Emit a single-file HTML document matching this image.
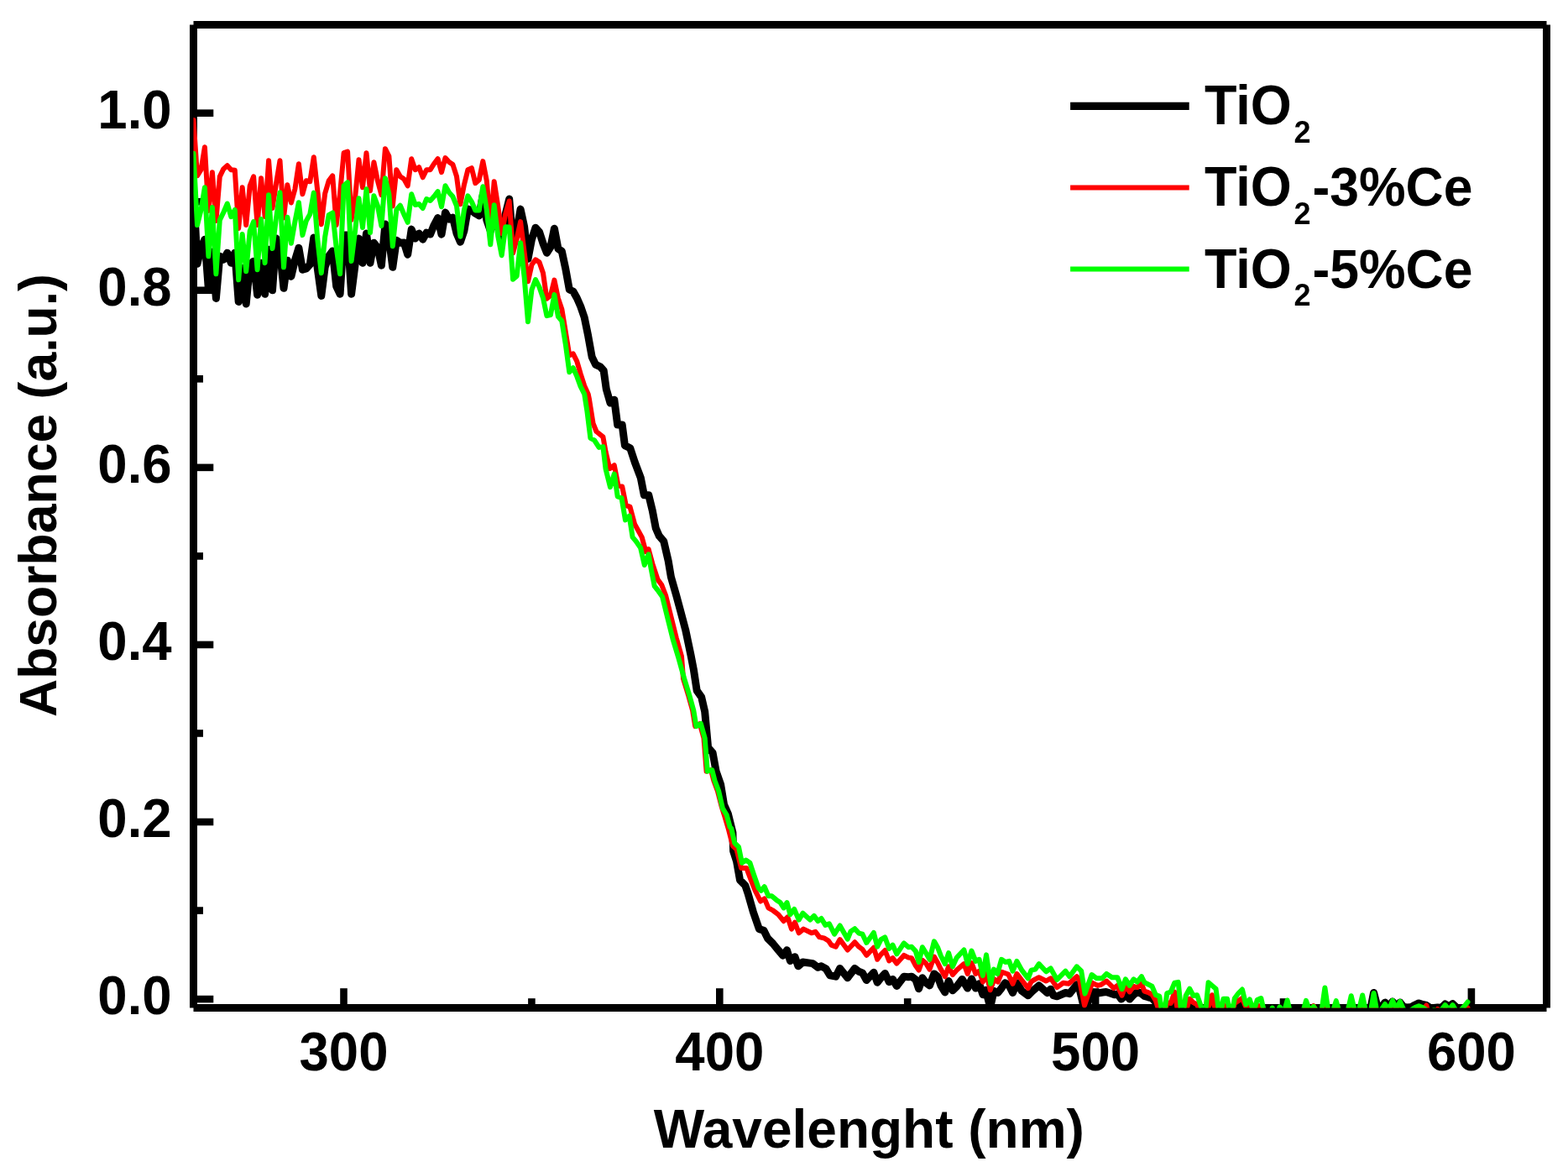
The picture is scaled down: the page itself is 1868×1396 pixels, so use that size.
<!DOCTYPE html><html><head><meta charset="utf-8"><title>Absorbance</title><style>html,body{margin:0;padding:0;background:#fff;width:1868px;height:1396px;overflow:hidden}svg{display:block}text{font-family:"Liberation Sans",Arial,sans-serif;font-weight:bold;fill:#000}</style></head><body>
<svg width="1868" height="1396" viewBox="0 0 1868 1396">
<rect width="1868" height="1396" fill="#fff"/>
<g stroke="#000" stroke-width="9" fill="none" stroke-linecap="butt">
<line x1="230.5" y1="29.5" x2="230.5" y2="1200.5"/>
<line x1="230.5" y1="29.5" x2="1842.5" y2="29.5"/>
<line x1="1842.5" y1="29.5" x2="1842.5" y2="1200.5"/>
<line x1="230.5" y1="1200.5" x2="1842.5" y2="1200.5"/>
</g>
<g stroke="#000" stroke-width="8.6" fill="none">
<line x1="230.5" y1="1190.10" x2="254.3" y2="1190.10"/>
<line x1="230.5" y1="979.02" x2="254.3" y2="979.02"/>
<line x1="230.5" y1="767.94" x2="254.3" y2="767.94"/>
<line x1="230.5" y1="556.86" x2="254.3" y2="556.86"/>
<line x1="230.5" y1="345.78" x2="254.3" y2="345.78"/>
<line x1="230.5" y1="134.70" x2="254.3" y2="134.70"/>
<line x1="230.5" y1="1084.56" x2="242.0" y2="1084.56"/>
<line x1="230.5" y1="873.48" x2="242.0" y2="873.48"/>
<line x1="230.5" y1="662.40" x2="242.0" y2="662.40"/>
<line x1="230.5" y1="451.32" x2="242.0" y2="451.32"/>
<line x1="230.5" y1="240.24" x2="242.0" y2="240.24"/>
<line x1="409.50" y1="1200.5" x2="409.50" y2="1177.2"/>
<line x1="857.30" y1="1200.5" x2="857.30" y2="1177.2"/>
<line x1="1305.10" y1="1200.5" x2="1305.10" y2="1177.2"/>
<line x1="1752.90" y1="1200.5" x2="1752.90" y2="1177.2"/>
<line x1="633.40" y1="1200.5" x2="633.40" y2="1189.2"/>
<line x1="1081.20" y1="1200.5" x2="1081.20" y2="1189.2"/>
<line x1="1529.00" y1="1200.5" x2="1529.00" y2="1189.2"/>
</g>
<defs><clipPath id="pc"><rect x="230.5" y="29.5" width="1612" height="1171"/></clipPath></defs>
<g clip-path="url(#pc)">
<path d="M230.5 225.0 L235.0 314.2 L239.5 295.0 L243.9 285.2 L248.4 345.0 L252.9 300.0 L257.4 355.4 L261.8 305.2 L266.3 309.2 L270.8 301.2 L275.3 313.2 L279.8 301.2 L284.2 359.4 L288.7 319.3 L293.2 361.9 L297.7 315.2 L302.1 311.2 L306.6 351.3 L311.1 313.2 L315.6 350.3 L320.1 297.2 L324.5 345.8 L329.0 284.0 L333.5 300.0 L338.0 343.3 L342.4 310.2 L346.9 329.3 L351.4 310.0 L355.9 295.2 L360.4 321.3 L364.8 320.0 L369.3 315.0 L373.8 283.1 L378.3 320.0 L382.8 352.4 L387.2 318.0 L391.7 305.0 L396.2 299.0 L400.7 341.0 L405.1 350.3 L409.6 280.1 L414.1 280.0 L418.6 350.3 L423.1 315.0 L427.5 284.1 L432.0 313.2 L436.5 278.1 L441.0 313.2 L445.4 289.2 L449.9 295.0 L454.4 316.2 L458.9 267.1 L463.4 285.0 L467.8 318.3 L472.3 286.2 L476.8 289.2 L481.3 289.0 L485.7 303.2 L490.2 273.1 L494.7 284.1 L499.2 278.1 L503.7 285.2 L508.1 277.1 L512.6 279.1 L517.1 268.0 L521.6 259.6 L526.0 279.2 L530.5 253.1 L535.0 261.0 L539.5 259.1 L544.0 278.0 L548.4 288.2 L552.9 275.0 L557.4 249.0 L561.9 250.5 L566.3 254.2 L570.8 256.9 L575.3 232.0 L579.8 262.0 L584.3 275.0 L588.7 258.0 L593.2 270.0 L597.7 285.0 L602.2 255.0 L606.7 237.1 L611.1 290.0 L615.6 275.0 L620.1 249.1 L624.6 270.0 L629.0 308.3 L633.5 285.0 L638.0 271.2 L642.5 276.2 L647.0 290.0 L651.4 301.2 L655.9 294.2 L660.4 272.2 L664.9 296.2 L669.3 299.2 L673.8 320.3 L678.3 345.0 L682.8 347.0 L687.3 355.0 L691.7 365.0 L696.2 378.1 L700.7 400.2 L705.2 425.3 L709.7 434.4 L715.2 436.8 L719.2 441.5 L722.3 463.6 L727.0 480.1 L731.8 476.2 L735.7 506.1 L741.2 506.1 L744.4 530.6 L750.7 533.7 L756.2 550.3 L763.3 569.2 L767.3 589.7 L772.8 589.7 L777.3 608.4 L781.2 628.9 L785.2 638.3 L790.7 644.6 L796.2 668.3 L799.4 687.2 L805.7 709.3 L810.4 726.6 L816.7 750.3 L823.0 780.2 L826.3 797.3 L830.2 822.6 L835.7 830.4 L839.7 847.8 L843.6 890.4 L849.1 896.7 L853.1 918.7 L858.6 934.5 L862.5 958.2 L867.3 969.2 L872.9 991.5 L873.6 1013.6 L877.6 1026.2 L881.5 1048.3 L887.8 1054.6 L891.0 1064.0 L897.3 1086.1 L904.4 1106.6 L909.9 1108.2 L914.6 1117.7 L920.9 1124.0 L927.3 1131.8 L932.8 1138.2 L937.5 1131.8 L941.4 1144.5 L947.0 1139.7 L950.9 1150.8 L956.4 1146.0 L968.2 1147.6 L974.5 1152.3 L978.5 1150.8 L984.0 1153.9 L988.7 1161.8 L990.4 1162.1 L995.7 1163.2 L1000.6 1153.5 L1009.7 1164.8 L1018.3 1153.5 L1023.2 1157.3 L1027.5 1158.9 L1032.3 1167.5 L1040.9 1158.3 L1045.2 1170.2 L1049.5 1164.8 L1054.3 1159.4 L1059.2 1169.6 L1063.5 1166.4 L1068.3 1174.5 L1076.9 1163.2 L1082.3 1163.7 L1086.0 1163.2 L1090.9 1166.9 L1094.6 1177.7 L1098.9 1164.8 L1103.2 1170.7 L1107.5 1173.9 L1112.9 1159.9 L1117.2 1163.2 L1120.9 1173.9 L1125.8 1182.0 L1130.1 1168.5 L1134.9 1179.8 L1139.8 1175.0 L1146.2 1166.4 L1152.7 1177.1 L1157.5 1165.9 L1162.3 1177.1 L1166.6 1171.8 L1170.9 1184.7 L1174.3 1179.3 L1179.7 1199.7 L1184.0 1180.4 L1188.8 1182.5 L1193.1 1177.1 L1197.4 1170.7 L1202.2 1173.9 L1206.5 1182.5 L1211.4 1170.7 L1217.3 1180.4 L1224.8 1185.7 L1230.2 1180.4 L1237.7 1173.9 L1247.4 1182.5 L1251.7 1178.2 L1254.9 1185.7 L1259.2 1186.8 L1269.4 1182.5 L1274.2 1183.6 L1282.8 1172.8 L1286.1 1178.2 L1292.0 1202.9 L1301.2 1182.3 L1305.5 1183.0 L1309.4 1182.7 L1313.9 1182.0 L1317.7 1181.5 L1322.5 1183.0 L1327.6 1184.8 L1331.5 1184.0 L1335.8 1190.1 L1341.6 1184.8 L1345.7 1190.1 L1349.5 1186.0 L1353.1 1182.7 L1358.1 1182.3 L1363.4 1186.4 L1367.9 1187.8 L1372.4 1189.0 L1376.9 1193.8 L1381.3 1204.0 L1385.8 1210.0 L1390.3 1206.0 L1394.8 1200.0 L1399.3 1189.7 L1403.7 1208.0 L1408.2 1210.0 L1412.7 1206.0 L1417.2 1196.5 L1421.6 1200.0 L1426.1 1200.0 L1430.6 1208.0 L1435.1 1210.0 L1439.6 1203.0 L1444.0 1191.2 L1448.5 1206.0 L1453.0 1210.0 L1457.5 1199.5 L1462.0 1206.0 L1466.4 1210.0 L1470.9 1199.0 L1475.4 1196.5 L1479.9 1198.0 L1484.3 1202.0 L1488.8 1204.0 L1493.3 1206.0 L1497.8 1205.0 L1502.3 1208.0 L1506.7 1208.0 L1511.2 1208.0 L1515.7 1208.0 L1520.2 1208.0 L1524.6 1208.0 L1529.1 1208.0 L1533.6 1208.0 L1538.1 1208.0 L1542.6 1208.0 L1547.0 1208.0 L1551.5 1208.0 L1556.0 1208.0 L1560.5 1208.0 L1564.9 1208.0 L1569.4 1208.0 L1573.9 1208.0 L1578.4 1208.0 L1582.9 1208.0 L1587.3 1208.0 L1591.8 1208.0 L1596.3 1208.0 L1600.8 1208.0 L1605.2 1208.0 L1609.7 1208.0 L1614.2 1208.0 L1618.7 1208.0 L1623.2 1208.0 L1627.6 1208.0 L1632.1 1205.0 L1636.6 1182.5 L1641.1 1199.7 L1645.5 1199.7 L1650.0 1194.1 L1654.5 1199.0 L1659.0 1193.0 L1663.5 1199.0 L1667.9 1194.0 L1672.4 1199.5 L1676.9 1200.0 L1681.4 1199.5 L1685.8 1197.0 L1690.3 1194.9 L1694.8 1196.5 L1699.3 1197.5 L1703.8 1200.5 L1708.2 1200.5 L1712.7 1200.0 L1717.2 1200.5 L1721.7 1196.0 L1726.2 1199.0 L1730.6 1195.6 L1735.1 1200.0 L1739.6 1204.0 L1744.1 1204.0 L1748.5 1204.0" fill="none" stroke="#000" stroke-width="9" stroke-linejoin="round" stroke-linecap="round"/>
<path d="M230.5 143.0 L235.0 209.3 L239.5 202.2 L243.9 175.2 L248.4 251.0 L252.9 205.2 L257.4 263.0 L261.8 210.3 L266.3 201.2 L270.8 197.2 L275.3 202.2 L279.8 202.7 L284.2 272.0 L288.7 223.3 L293.2 268.0 L297.7 221.3 L302.1 210.3 L306.6 268.0 L311.1 212.3 L315.6 258.0 L320.1 191.2 L324.5 248.0 L329.0 218.8 L333.5 191.2 L338.0 259.5 L342.4 220.3 L346.9 241.5 L351.4 225.3 L355.9 195.2 L360.4 231.3 L364.8 215.3 L369.3 216.3 L373.8 187.2 L378.3 227.3 L382.8 267.2 L387.2 230.3 L391.7 215.3 L396.2 209.3 L400.7 268.0 L405.1 230.0 L409.6 182.2 L414.1 180.7 L418.6 262.0 L423.1 235.3 L427.5 190.2 L432.0 223.3 L436.5 182.2 L441.0 227.3 L445.4 193.2 L449.9 215.3 L454.4 232.3 L458.9 177.2 L463.4 186.2 L467.8 245.4 L472.3 202.2 L476.8 210.3 L481.3 213.3 L485.7 221.3 L490.2 189.2 L494.7 202.2 L499.2 199.2 L503.7 211.3 L508.1 202.2 L512.6 202.2 L517.1 195.0 L521.6 189.1 L526.0 205.2 L530.5 188.1 L535.0 193.1 L539.5 196.1 L544.0 210.2 L548.4 243.3 L552.9 220.2 L557.4 202.2 L561.9 200.2 L566.3 218.2 L570.8 214.2 L575.3 192.1 L579.8 215.2 L584.3 268.0 L588.7 216.2 L593.2 245.3 L597.7 278.0 L602.2 255.0 L606.7 239.5 L611.1 301.5 L615.6 285.0 L620.1 264.1 L624.6 300.0 L629.0 335.3 L633.5 315.3 L638.0 309.3 L642.5 312.3 L647.0 325.3 L651.4 355.7 L655.9 352.0 L660.4 333.6 L664.9 355.2 L669.3 368.1 L673.8 395.2 L678.3 423.3 L682.8 421.3 L687.3 430.3 L691.7 445.3 L696.2 459.4 L700.7 469.4 L701.8 474.6 L706.6 504.5 L710.5 514.0 L718.4 520.3 L721.5 537.7 L726.3 558.2 L731.8 554.2 L736.5 578.6 L741.2 579.4 L745.8 602.1 L750.5 603.6 L756.0 624.1 L764.7 639.9 L769.4 657.3 L772.6 654.1 L777.3 671.4 L783.6 690.4 L788.3 696.7 L793.1 709.3 L799.4 734.5 L805.7 759.7 L812.0 781.8 L814.0 808.4 L820.3 828.9 L825.1 846.2 L828.2 865.1 L833.7 862.0 L838.5 879.3 L841.6 918.7 L847.1 917.2 L850.3 929.8 L855.0 942.4 L859.5 960.0 L863.4 972.6 L868.1 988.4 L872.9 1007.3 L877.6 1012.0 L883.1 1034.1 L889.4 1034.1 L894.1 1046.7 L899.7 1060.9 L906.0 1073.5 L910.7 1070.4 L915.4 1081.4 L920.9 1084.5 L927.3 1089.3 L933.6 1097.2 L938.3 1092.4 L943.0 1106.6 L947.0 1098.7 L951.7 1111.3 L957.2 1106.6 L966.7 1111.3 L971.4 1109.8 L976.1 1116.1 L982.4 1117.7 L987.2 1120.8 L990.4 1125.6 L995.7 1127.7 L1000.6 1119.1 L1009.7 1131.5 L1018.3 1122.3 L1023.2 1127.7 L1027.5 1130.9 L1032.3 1137.9 L1040.9 1128.8 L1045.2 1142.8 L1049.5 1136.8 L1054.3 1132.0 L1059.2 1144.4 L1063.5 1141.1 L1068.3 1147.6 L1076.9 1137.9 L1082.3 1140.6 L1086.0 1141.1 L1090.9 1150.3 L1094.6 1155.6 L1098.9 1143.8 L1103.2 1147.6 L1107.5 1154.6 L1112.9 1139.5 L1117.2 1147.0 L1120.9 1154.6 L1125.8 1163.2 L1130.1 1151.3 L1134.9 1161.0 L1139.8 1155.6 L1148.4 1148.1 L1152.7 1159.9 L1157.5 1147.0 L1162.3 1159.9 L1166.6 1156.7 L1170.9 1169.6 L1175.0 1159.9 L1179.7 1179.3 L1184.5 1166.4 L1188.8 1169.6 L1193.6 1157.8 L1201.2 1160.5 L1206.5 1171.8 L1211.4 1159.9 L1217.3 1167.5 L1224.8 1177.1 L1228.6 1169.1 L1233.4 1166.4 L1237.7 1164.2 L1246.3 1168.5 L1251.7 1165.3 L1259.2 1176.1 L1266.7 1170.7 L1273.2 1171.8 L1282.8 1163.2 L1286.1 1167.5 L1292.0 1197.6 L1301.1 1170.7 L1307.6 1173.9 L1311.9 1172.8 L1318.3 1168.5 L1326.9 1177.1 L1331.2 1173.9 L1336.6 1185.7 L1340.9 1173.9 L1345.7 1181.4 L1350.5 1175.0 L1354.8 1176.1 L1360.0 1171.8 L1363.4 1180.7 L1367.9 1182.2 L1372.4 1184.5 L1376.9 1192.0 L1381.3 1206.0 L1385.8 1210.0 L1390.3 1194.2 L1394.8 1195.0 L1399.3 1181.5 L1403.7 1208.0 L1408.2 1210.0 L1412.7 1205.0 L1417.2 1189.7 L1421.6 1194.2 L1426.1 1196.5 L1430.6 1208.0 L1435.1 1210.0 L1439.6 1200.0 L1444.0 1185.2 L1448.5 1206.0 L1453.0 1210.0 L1457.5 1196.5 L1462.0 1206.0 L1466.4 1210.0 L1470.9 1195.0 L1475.4 1192.0 L1479.9 1189.0 L1484.3 1199.5 L1488.8 1198.0 L1493.3 1206.0 L1497.8 1198.0 L1502.3 1198.2 L1506.7 1213.0 L1511.2 1217.0 L1515.7 1205.5 L1520.2 1215.0 L1524.6 1204.4 L1529.1 1213.0 L1533.6 1196.5 L1538.1 1215.0 L1542.6 1220.0 L1547.0 1220.0 L1551.5 1213.0 L1556.0 1196.9 L1560.5 1210.0 L1564.9 1198.0 L1569.4 1210.0 L1573.9 1213.0 L1578.4 1181.5 L1582.9 1213.0 L1587.3 1211.0 L1591.8 1197.2 L1596.3 1213.0 L1600.8 1220.0 L1605.2 1211.0 L1609.7 1191.2 L1614.2 1210.0 L1618.7 1209.0 L1623.2 1190.5 L1627.6 1213.0 L1632.1 1215.0 L1636.6 1188.0 L1641.1 1215.0 L1645.5 1208.0 L1650.0 1201.0 L1654.5 1208.0 L1659.0 1196.9 L1663.5 1207.0 L1667.9 1198.0 L1672.4 1208.0 L1676.9 1215.0 L1681.4 1208.0 L1685.8 1205.0 L1690.3 1199.0 L1694.8 1205.0 L1699.3 1197.5 L1703.8 1215.0 L1708.2 1208.0 L1712.7 1202.0 L1717.2 1208.0 L1721.7 1202.1 L1726.2 1208.0 L1730.6 1202.1 L1735.1 1210.0 L1739.6 1209.0 L1744.1 1204.0 L1748.5 1200.5" fill="none" stroke="#ff0000" stroke-width="6" stroke-linejoin="round" stroke-linecap="round"/>
<path d="M230.5 182.8 L235.0 268.1 L239.5 250.0 L243.9 223.3 L248.4 305.2 L252.9 247.0 L257.4 326.3 L261.8 262.1 L266.3 253.0 L270.8 242.5 L275.3 258.1 L279.8 250.0 L284.2 333.3 L288.7 279.1 L293.2 323.3 L297.7 275.1 L302.1 264.1 L306.6 321.3 L311.1 261.1 L315.6 313.2 L320.1 232.3 L324.5 296.0 L329.0 260.0 L333.5 229.3 L338.0 318.3 L342.4 258.7 L346.9 289.7 L351.4 264.0 L355.9 241.2 L360.4 280.1 L364.8 263.1 L369.3 255.1 L373.8 229.6 L378.3 285.2 L382.8 325.3 L387.2 282.0 L391.7 256.1 L396.2 253.5 L400.7 295.2 L405.1 326.3 L409.6 221.3 L414.1 217.3 L418.6 311.0 L423.1 275.0 L427.5 236.3 L432.0 271.1 L436.5 225.3 L441.0 277.1 L445.4 233.3 L449.9 245.0 L454.4 269.1 L458.9 212.3 L463.4 231.3 L467.8 293.2 L472.3 250.0 L476.8 244.7 L481.3 255.4 L485.7 264.8 L490.2 231.3 L494.7 244.0 L499.2 243.0 L503.7 248.0 L508.1 237.0 L512.6 239.0 L517.1 234.0 L521.6 228.2 L526.0 246.3 L530.5 221.2 L535.0 229.2 L539.5 234.3 L544.0 245.3 L548.4 281.7 L552.9 250.3 L557.4 233.3 L561.9 240.3 L566.3 250.5 L570.8 250.5 L575.3 222.2 L579.8 250.3 L584.3 291.2 L588.7 244.2 L593.2 281.0 L597.7 304.2 L602.2 270.3 L606.7 270.6 L611.1 332.7 L615.6 329.0 L620.1 289.2 L624.6 330.0 L629.0 383.2 L633.5 345.0 L638.0 333.0 L642.5 342.0 L647.0 355.0 L651.4 376.1 L655.9 375.1 L660.4 351.1 L664.9 377.1 L669.3 382.2 L673.8 410.2 L678.3 443.3 L682.8 438.3 L687.3 448.4 L691.7 460.4 L696.2 469.4 L699.5 490.4 L703.4 521.9 L708.1 524.3 L713.6 532.9 L718.4 532.1 L721.5 558.2 L727.0 580.2 L731.8 564.5 L735.7 591.3 L740.5 593.0 L745.0 619.4 L749.7 614.7 L753.6 639.9 L757.6 644.6 L763.1 652.5 L767.8 673.0 L772.6 660.4 L775.7 677.7 L779.7 698.2 L783.6 703.0 L789.1 710.9 L795.3 736.1 L801.6 761.3 L807.8 781.8 L815.2 808.4 L821.5 828.9 L826.3 846.2 L829.4 865.1 L834.9 862.0 L839.7 879.3 L842.8 918.7 L848.3 917.2 L851.5 929.8 L856.2 942.4 L860.9 962.9 L865.7 970.8 L869.6 985.0 L871.3 986.8 L875.2 1004.1 L880.0 1008.9 L883.9 1027.8 L888.6 1024.6 L893.4 1027.8 L898.1 1042.0 L903.6 1057.7 L906.8 1060.9 L910.7 1056.2 L915.4 1067.2 L919.4 1067.2 L924.9 1071.9 L929.6 1075.1 L933.6 1081.4 L937.5 1075.1 L941.4 1089.3 L946.2 1083.0 L951.7 1095.6 L956.4 1087.7 L965.1 1095.6 L969.8 1090.9 L974.5 1097.2 L978.5 1094.0 L983.2 1101.9 L987.9 1100.3 L994.1 1112.7 L1000.6 1102.5 L1009.7 1118.6 L1013.5 1109.4 L1018.3 1106.2 L1023.2 1111.6 L1027.5 1112.7 L1032.3 1122.9 L1040.9 1111.0 L1045.2 1127.7 L1049.5 1119.1 L1054.3 1116.4 L1059.2 1129.9 L1063.5 1125.6 L1068.3 1136.3 L1076.9 1123.4 L1082.3 1128.2 L1086.0 1127.7 L1090.9 1133.1 L1094.6 1146.0 L1098.9 1128.2 L1103.2 1135.2 L1107.5 1142.8 L1112.9 1121.3 L1117.2 1128.8 L1120.9 1138.5 L1125.8 1148.1 L1130.1 1135.2 L1134.9 1151.3 L1139.8 1140.6 L1148.4 1131.5 L1152.7 1148.1 L1157.5 1132.5 L1162.3 1144.9 L1166.6 1142.8 L1170.9 1162.1 L1175.0 1137.4 L1180.2 1171.8 L1184.0 1154.6 L1188.3 1159.9 L1193.1 1142.8 L1197.9 1146.0 L1202.2 1144.9 L1206.5 1156.7 L1211.4 1144.9 L1217.3 1155.6 L1224.8 1165.3 L1228.6 1155.6 L1233.4 1154.6 L1237.7 1148.1 L1246.3 1157.3 L1251.7 1153.5 L1259.2 1166.9 L1269.4 1156.7 L1274.2 1163.2 L1282.8 1151.3 L1288.2 1156.7 L1292.5 1183.6 L1300.6 1161.0 L1306.5 1165.3 L1312.9 1165.3 L1318.3 1159.9 L1324.8 1164.2 L1331.2 1164.2 L1336.6 1178.2 L1340.9 1166.4 L1345.7 1173.9 L1350.5 1166.4 L1354.8 1169.6 L1360.0 1163.2 L1363.4 1170.2 L1367.9 1172.5 L1372.4 1174.7 L1376.9 1185.2 L1381.3 1186.7 L1385.8 1215.0 L1390.3 1183.0 L1394.8 1181.5 L1399.3 1170.6 L1403.7 1169.9 L1408.2 1215.0 L1412.7 1186.0 L1417.2 1177.7 L1421.6 1186.0 L1426.1 1185.2 L1430.6 1198.0 L1435.1 1215.0 L1439.6 1170.2 L1444.0 1174.0 L1448.5 1177.7 L1453.0 1212.0 L1457.5 1189.7 L1462.0 1189.7 L1466.4 1212.0 L1470.9 1189.0 L1475.4 1183.0 L1479.9 1178.5 L1484.3 1196.5 L1488.8 1190.5 L1493.3 1205.0 L1497.8 1191.0 L1502.3 1189.0 L1506.7 1208.0 L1511.2 1212.0 L1515.7 1200.5 L1520.2 1210.0 L1524.6 1199.4 L1529.1 1208.0 L1533.6 1191.5 L1538.1 1210.0 L1542.6 1215.0 L1547.0 1215.0 L1551.5 1208.0 L1556.0 1191.9 L1560.5 1205.0 L1564.9 1199.0 L1569.4 1205.0 L1573.9 1208.0 L1578.4 1176.5 L1582.9 1208.0 L1587.3 1206.0 L1591.8 1192.2 L1596.3 1208.0 L1600.8 1215.0 L1605.2 1206.0 L1609.7 1186.2 L1614.2 1205.0 L1618.7 1204.0 L1623.2 1185.5 L1627.6 1208.0 L1632.1 1210.0 L1636.6 1183.0 L1641.1 1210.0 L1645.5 1203.0 L1650.0 1196.0 L1654.5 1203.0 L1659.0 1191.9 L1663.5 1202.0 L1667.9 1193.0 L1672.4 1203.0 L1676.9 1210.0 L1681.4 1203.0 L1685.8 1200.0 L1690.3 1198.2 L1694.8 1200.0 L1699.3 1203.0 L1703.8 1210.0 L1708.2 1203.0 L1712.7 1205.0 L1717.2 1203.0 L1721.7 1197.1 L1726.2 1203.0 L1730.6 1197.1 L1735.1 1205.0 L1739.6 1204.0 L1744.1 1199.0 L1748.5 1193.5" fill="none" stroke="#00ff00" stroke-width="6" stroke-linejoin="round" stroke-linecap="round"/>
</g>
<text transform="matrix(1 0 0 1.035 0 -42.29)" x="204.6" y="1208.3" font-size="63.5" text-anchor="end">0.0</text>
<text transform="matrix(1 0 0 1.035 0 -34.90)" x="204.6" y="997.2" font-size="63.5" text-anchor="end">0.2</text>
<text transform="matrix(1 0 0 1.035 0 -27.51)" x="204.6" y="786.1" font-size="63.5" text-anchor="end">0.4</text>
<text transform="matrix(1 0 0 1.035 0 -20.13)" x="204.6" y="575.1" font-size="63.5" text-anchor="end">0.6</text>
<text transform="matrix(1 0 0 1.035 0 -12.74)" x="204.6" y="364.0" font-size="63.5" text-anchor="end">0.8</text>
<text transform="matrix(1 0 0 1.035 0 -5.35)" x="204.6" y="152.9" font-size="63.5" text-anchor="end">1.0</text>
<text transform="matrix(1 0 0 1.035 0 -44.63)" x="409.5" y="1275.2" font-size="63.5" text-anchor="middle">300</text>
<text transform="matrix(1 0 0 1.035 0 -44.63)" x="857.3" y="1275.2" font-size="63.5" text-anchor="middle">400</text>
<text transform="matrix(1 0 0 1.035 0 -44.63)" x="1305.1" y="1275.2" font-size="63.5" text-anchor="middle">500</text>
<text transform="matrix(1 0 0 1.035 0 -44.63)" x="1752.9" y="1275.2" font-size="63.5" text-anchor="middle">600</text>
<text x="1035.3" y="1366.9" font-size="64" text-anchor="middle">Wavelenght (nm)</text>
<text transform="translate(67.2,590.05) rotate(-90)" x="0" y="0" font-size="62.5" text-anchor="middle">Absorbance (a.u.)</text>
<line x1="1275.1" y1="126.4" x2="1416.7" y2="126.4" stroke="#000" stroke-width="9.4"/>
<text transform="matrix(1 0 0 1.047 0 -6.95)" x="1435.0" y="147.9" font-size="63">TiO</text>
<text x="1541.5" y="169.7" font-size="36">2</text>
<line x1="1275.1" y1="223.4" x2="1416.7" y2="223.4" stroke="#ff0000" stroke-width="6"/>
<text transform="matrix(1 0 0 1.047 0 -11.52)" x="1435.0" y="245.1" font-size="63">TiO</text>
<text x="1541.5" y="266.9" font-size="36">2</text>
<text transform="matrix(1 0 0 1.047 0 -11.52)" x="1563.5" y="245.1" font-size="62.5">-3%Ce</text>
<line x1="1275.1" y1="320.4" x2="1416.7" y2="320.4" stroke="#00ff00" stroke-width="6"/>
<text transform="matrix(1 0 0 1.047 0 -16.10)" x="1435.0" y="342.6" font-size="63">TiO</text>
<text x="1541.5" y="364.4" font-size="36">2</text>
<text transform="matrix(1 0 0 1.047 0 -16.10)" x="1563.5" y="342.6" font-size="62.5">-5%Ce</text>
</svg></body></html>
